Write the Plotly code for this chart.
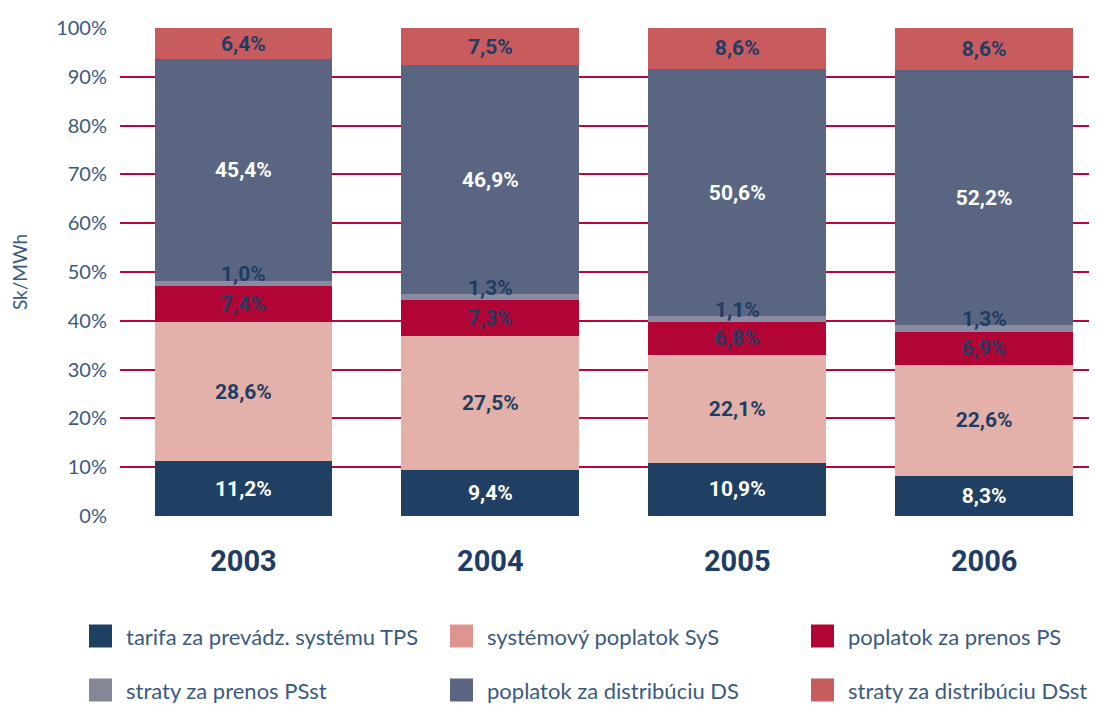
import plotly.graph_objects as go

years = ["2003", "2004", "2005", "2006"]
series_names = [
    "tarifa za prevádz. systému TPS",
    "systémový poplatok SyS",
    "poplatok za prenos PS",
    "straty za prenos PSst",
    "poplatok za distribúciu DS",
    "straty za distribúciu DSst",
]
tps = [11.2, 9.4, 10.9, 8.3]
sys_fee = [28.6, 27.5, 22.1, 22.6]
ps = [7.4, 7.3, 6.8, 6.9]
psst = [1.0, 1.3, 1.1, 1.3]
ds = [45.4, 46.9, 50.6, 52.2]
dsst = [6.4, 7.5, 8.6, 8.6]
y_ticks = [0, 10, 20, 30, 40, 50, 60, 70, 80, 90, 100]
y_tick_text = [f"{t}%" for t in y_ticks]

series_values = [tps, sys_fee, ps, psst, ds, dsst]
bar_colors = ["#1f3f63", "#e3b1aa", "#b00535", "#8a8ba3", "#5a6681", "#c75b5e"]
legend_colors = ["#1f3f63", "#dc968f", "#b00535", "#858799", "#5a6681", "#c75b5e"]
label_colors = ["white", "#1f3d63", "#1f3d63", "#1f3d63", "white", "#1f3d63"]

NAVY = "#1f3d63"
TICK = "#3a5a80"
GRID = "#b8063c"
BOLD = "Roboto"

# page body adds an 8px margin, so the figure is drawn 8px smaller
OFF = 8
W, H = 1097 - OFF, 705 - OFF
L, R, T, B = 120 - OFF, 0, 28 - OFF, 189
pw, ph = W - L - R, H - T - B


def fmt(v):
    return f"{v:.1f}%".replace(".", ",")


fig = go.Figure()
for i, (name, vals, col) in enumerate(zip(series_names, series_values, bar_colors)):
    thin = name.endswith("PSst")
    fig.add_trace(go.Bar(
        x=years, y=vals, name=name, marker_color=col, marker_line_width=0,
        showlegend=False,
        text=None if thin else [fmt(v) for v in vals],
        textposition="inside", insidetextanchor="middle", textangle=0,
        insidetextfont=dict(family=BOLD, size=21, color=label_colors[i], weight="bold"),
        hoverinfo="name+y",
    ))

# thin segment labels sit a bit above their slice (x given as category index)
base = [a + b + c for a, b, c in zip(tps, sys_fee, ps)]
for j, v in enumerate(psst):
    fig.add_annotation(
        x=j, y=base[j] + v / 2, text=fmt(v), showarrow=False, yshift=9,
        font=dict(family=BOLD, size=21, color=NAVY, weight="bold"),
    )


def px(x):
    return (x - OFF - L) / pw


def py(y):
    return (H - B - (y - OFF)) / ph


col_x = [89, 450, 811]
row_y = [636, 690]
for k, (name, col) in enumerate(zip(series_names, legend_colors)):
    cx = col_x[k % 3]
    cy = row_y[k // 3]
    fig.add_shape(type="rect", xref="paper", yref="paper",
                  x0=px(cx), x1=px(cx + 23), y0=py(cy - 11.5), y1=py(cy + 11.5),
                  fillcolor=col, line_width=0)
    fig.add_annotation(xref="paper", yref="paper", x=px(cx + 35), y=py(cy),
                       xanchor="left", yanchor="middle", text=name, showarrow=False,
                       font=dict(family="Lato", size=22, color=TICK))

fig.update_layout(
    width=W, height=H,
    barmode="stack", bargap=0.28,
    plot_bgcolor="white", paper_bgcolor="white",
    margin=dict(l=L, r=R, t=T, b=B, autoexpand=False),
    showlegend=False,
    uniformtext=dict(minsize=21, mode="show"),
    font=dict(family="Lato", color=TICK),
)
fig.update_xaxes(
    type="category", range=[-0.5, 3.457], showgrid=False, zeroline=False, showline=False,
    ticks="", ticklabelstandoff=25,
    tickfont=dict(family=BOLD, size=29, color=NAVY, weight="bold"),
)
fig.update_yaxes(
    range=[0, 100], tickmode="array", tickvals=y_ticks, ticktext=y_tick_text,
    showgrid=True, gridcolor=GRID, gridwidth=2, zeroline=False,
    tickfont=dict(family="Lato", size=20, color=TICK), ticklabelstandoff=12,
    title=dict(text="Sk/MWh", font=dict(family="Lato", size=19, color=TICK), standoff=26),
)

fig.write_html("out.html")
